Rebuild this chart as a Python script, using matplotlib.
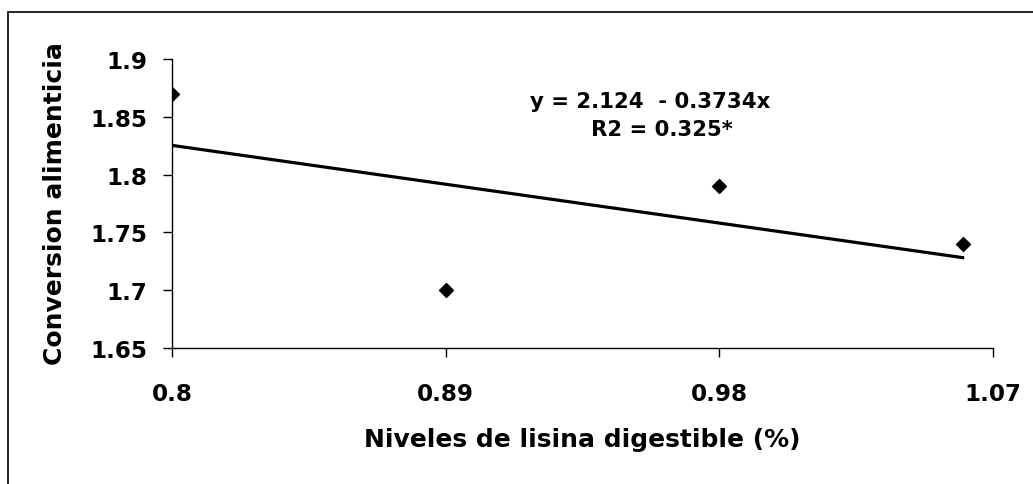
import matplotlib
matplotlib.use("Agg")
import matplotlib.pyplot as plt
from matplotlib.patches import Rectangle

x_vals = [0.80, 0.89, 0.98, 1.06]
y_vals = [1.87, 1.70, 1.79, 1.74]
trend_intercept = 2.124
trend_slope = -0.3734
x_ticks = [0.80, 0.89, 0.98, 1.07]
x_tick_labels = ["0.8", "0.89", "0.98", "1.07"]
y_ticks = [1.65, 1.70, 1.75, 1.80, 1.85, 1.90]
y_tick_labels = ["1.65", "1.7", "1.75", "1.8", "1.85", "1.9"]

plt.rcParams['font.family'] = ['DejaVu Sans']
plt.rcParams['font.weight'] = 'bold'

fig = plt.figure(figsize=(10.33, 4.85), dpi=100)
ax = fig.add_axes([172/1033, 1-349/485, (993-172)/1033, (349-60)/485])

ax.scatter(x_vals, y_vals, marker='D', s=50, color='black', zorder=3)
tx = [x_vals[0], x_vals[-1]]
ty = [trend_intercept + trend_slope * v for v in tx]
ax.plot(tx, ty, color='black', lw=2.3)

ax.set_xlim(0.80, 1.07)
ax.set_ylim(1.65, 1.90)
ax.set_xticks(x_ticks)
ax.set_xticklabels(x_tick_labels)
ax.set_yticks(y_ticks)
ax.set_yticklabels(y_tick_labels)
ax.spines['top'].set_visible(False)
ax.spines['right'].set_visible(False)
for s in ['left', 'bottom']:
    ax.spines[s].set_linewidth(1.0)
ax.tick_params(axis='both', direction='out', length=6.5, width=1.0, labelsize=16.6)
ax.tick_params(axis='x', pad=18)
ax.tick_params(axis='y', pad=11)
ax.set_xlabel("Niveles de lisina digestible (%)", fontsize=18, fontweight='bold')
ax.xaxis.set_label_coords(0.5, -(440 - 349) / 289, transform=ax.transAxes)
ax.xaxis.label.set_va('center')
ax.set_ylabel("Conversion alimenticia", fontsize=18, fontweight='bold')
ax.yaxis.set_label_coords(-(172 - 55) / 821, (349 - 204) / 289, transform=ax.transAxes)
ax.yaxis.label.set_va('center')

ax.text(0.582, 0.855, "y = 2.124  - 0.3734x", transform=ax.transAxes, fontsize=15.3,
        fontweight='bold', ha='center', va='center')
ax.text(0.597, 0.758, "R2 = 0.325*", transform=ax.transAxes, fontsize=15.3,
        fontweight='bold', ha='center', va='center')

fig.patches.append(Rectangle((8/1033, -0.1), 1.2, 0.1 + 1 - 13/485, transform=fig.transFigure,
                             fill=False, edgecolor='black', lw=1.2))

fig.savefig("out.png", dpi=100)
